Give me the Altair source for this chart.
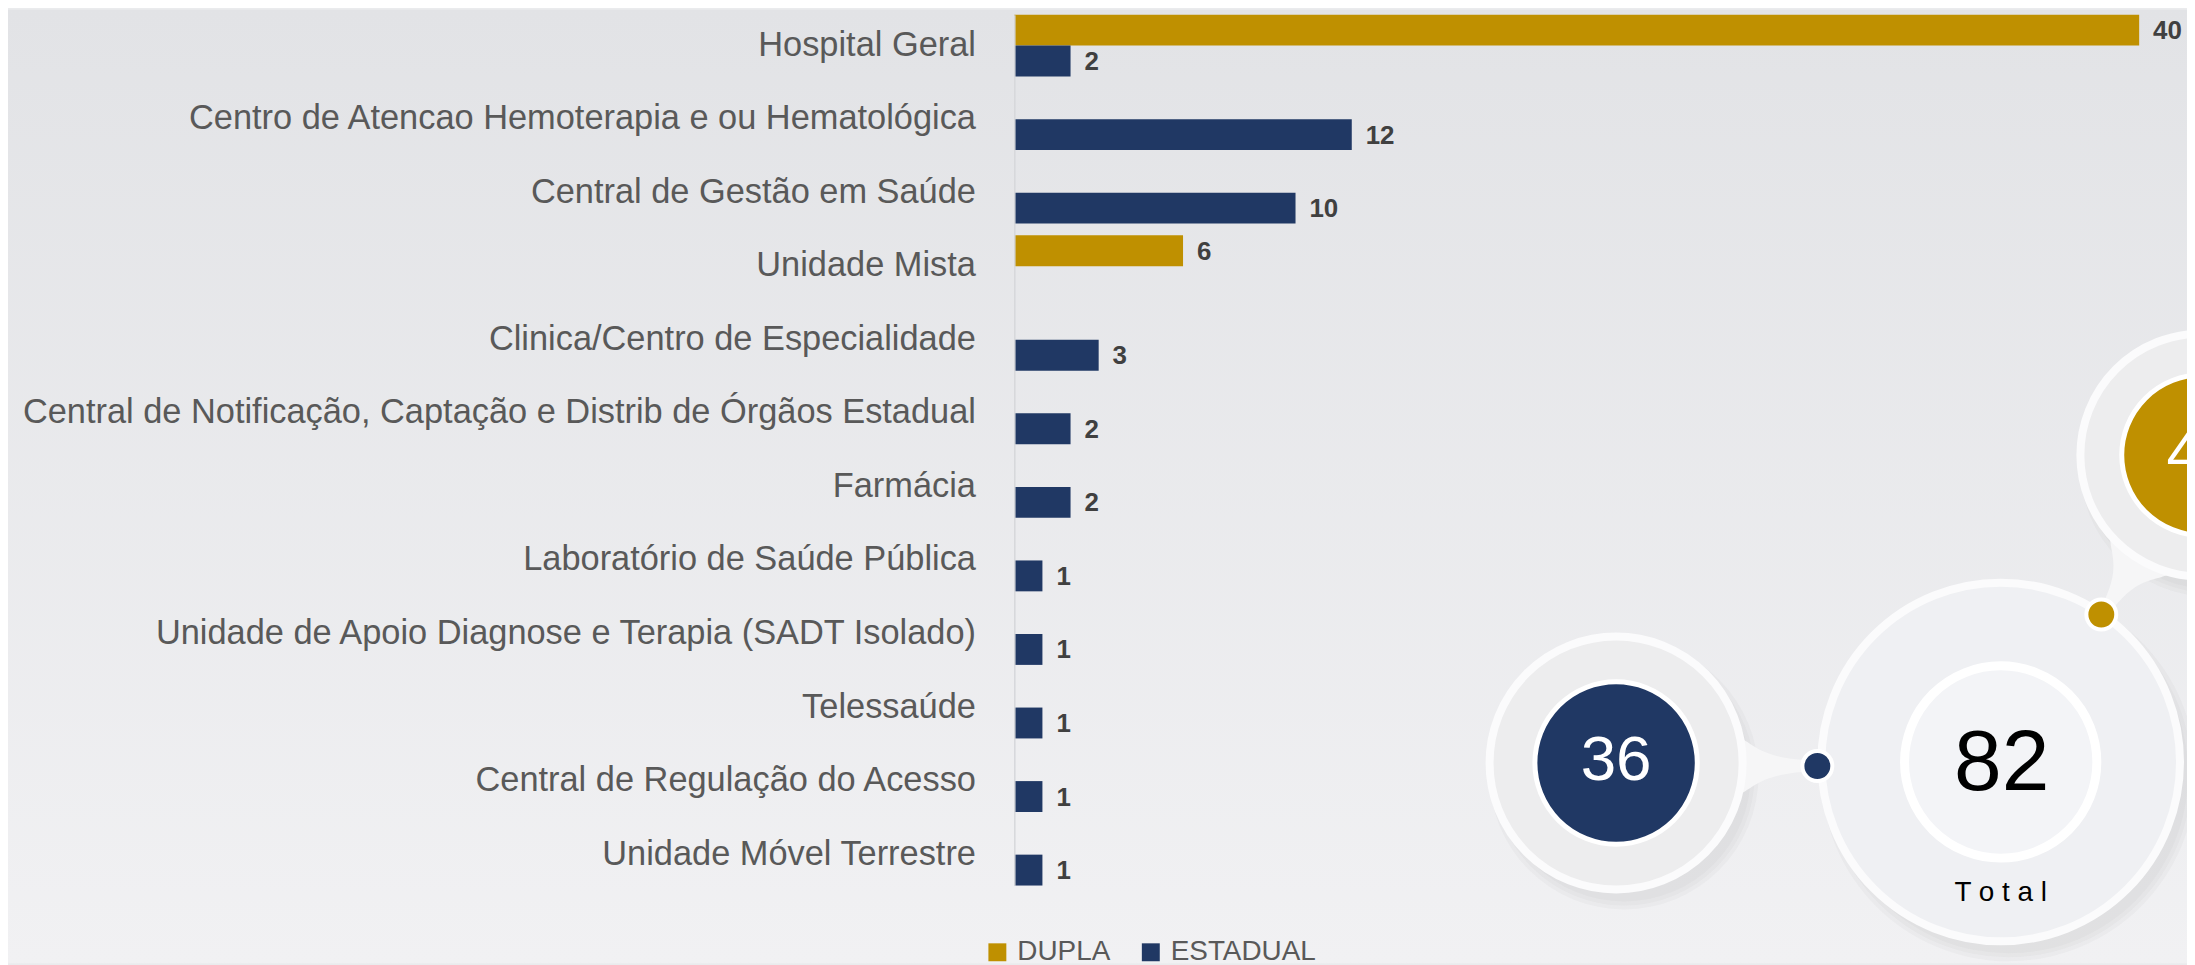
import altair as alt
import pandas as pd

categories = [
    "Hospital Geral",
    "Centro de Atencao Hemoterapia e ou Hematológica",
    "Central de Gestão em Saúde",
    "Unidade Mista",
    "Clinica/Centro de Especialidade",
    "Central de Notificação, Captação e Distrib de Órgãos Estadual",
    "Farmácia",
    "Laboratório de Saúde Pública",
    "Unidade de Apoio Diagnose e Terapia (SADT Isolado)",
    "Telessaúde",
    "Central de Regulação do Acesso",
    "Unidade Móvel Terrestre",
]
dupla = [40, 0, 0, 6, 0, 0, 0, 0, 0, 0, 0, 0]
estadual = [2, 12, 10, 0, 3, 2, 2, 1, 1, 1, 1, 1]
series = ["DUPLA", "ESTADUAL"]
colors = ["#BF9000", "#203864"]

rows = []
for c, d, e in zip(categories, dupla, estadual):
    if d:
        rows.append({"cat": c, "serie": "DUPLA", "v": d})
    if e:
        rows.append({"cat": c, "serie": "ESTADUAL", "v": e})
df = pd.DataFrame(rows)

total_dupla = sum(dupla)
total_estadual = sum(estadual)
total_all = total_dupla + total_estadual

FONT = "Liberation Sans"
W, H = 1129, 874
PAD = {"left": 1010, "top": 5, "right": 48, "bottom": 78}

one = pd.DataFrame({"a": [0]})

# background gradient
bg = alt.Chart(one).mark_rect(
    fill=alt.Gradient(
        gradient="linear",
        stops=[alt.GradientStop(color="#e2e3e6", offset=0),
               alt.GradientStop(color="#f1f1f3", offset=1)],
        x1=0, x2=0, y1=0, y2=1,
    )
).encode(
    x=alt.value(-PAD["left"]), x2=alt.value(W + PAD["right"]),
    y=alt.value(-PAD["top"]), y2=alt.value(H + PAD["bottom"]),
)

y_enc = alt.Y(
    "cat:N", sort=categories,
    scale=alt.Scale(domain=categories, paddingInner=0.16, paddingOuter=0),
    axis=alt.Axis(title=None, ticks=False, labelFontSize=34.5, labelColor="#595959",
                  labelFont=FONT, labelPadding=39, domainColor="#d6d7da", domainWidth=1.5,
                  labelLimit=1500, grid=False, zindex=2),
)
yoff = alt.YOffset("serie:N", scale=alt.Scale(domain=series, paddingInner=0, paddingOuter=0))
x_enc = alt.X("v:Q", scale=alt.Scale(domain=[0, 40], nice=False, zero=True), axis=None)

bars = alt.Chart(df).mark_bar().encode(
    x=x_enc, y=y_enc, yOffset=yoff,
    color=alt.Color("serie:N", scale=alt.Scale(domain=series, range=colors),
                    legend=alt.Legend(orient="none", legendX=-31, legendY=927,
                                      direction="horizontal", title=None,
                                      symbolType="square", symbolSize=324,
                                      labelFontSize=28, labelColor="#595959",
                                      labelFont=FONT, labelOffset=6,
                                      columnPadding=26, padding=0,
                                      symbolStrokeWidth=0, symbolOpacity=1,
                                      zindex=2)),
)
labels = alt.Chart(df).mark_text(
    align="left", baseline="middle", dx=14, dy=1, fontSize=26, fontWeight="bold",
    color="#404040", font=FONT,
).encode(x=x_enc, y=y_enc, yOffset=yoff, text="v:Q")


def circle(px, py, r, fill, stroke="#ffffff", sw=0, opacity=1.0):
    return alt.Chart(one).mark_circle(
        fill=fill, stroke=stroke, strokeWidth=sw, opacity=opacity,
        size=(2 * r) ** 2,
    ).encode(x=alt.value(px), y=alt.value(py))


def tail(px, py, span, angle, flare, neck, fill="#f6f6f7"):
    path = (f"M -1 {-flare} C -0.55 {-flare * 0.7} -0.45 {-neck * 1.3} 1 {-neck} "
            f"L 1 {neck} C -0.45 {neck * 1.3} -0.55 {flare * 0.7} -1 {flare} Z")
    return alt.Chart(one).mark_point(
        shape=path, filled=True, fill=fill, strokeWidth=0, opacity=1,
        size=span ** 2, angle=angle,
    ).encode(x=alt.value(px), y=alt.value(py))


def label(px, py, txt, size, color, weight="normal"):
    return alt.Chart(pd.DataFrame({"t": [txt]})).mark_text(
        align="center", baseline="middle", fontSize=size, color=color,
        font=FONT, fontWeight=weight,
    ).encode(x=alt.value(px), y=alt.value(py), text="t:N")


def shadow(px, py, edge):
    return [circle(px + 8, py + 12, edge + d, "#8a8b92", opacity=0.05) for d in (4, 0, -4)]


# bubble geometry (pixels relative to the plot origin)
B36 = (604, 751)
B82 = (990, 750)
B46 = (1192, 442)
DOT_E = (806, 754)
DOT_D = (1091, 602)

deco = []
deco += shadow(*B36, 131)
deco += shadow(*B82, 184)
deco += shadow(*B46, 126)
deco.append(tail(767, 754, 84, 0, 0.72, 0.12))
deco.append(tail(1110, 574, 74, 122, 0.95, 0.13))
deco.append(circle(*B36, 127, "#ededee", "#fbfbfc", 8))
deco.append(circle(*B82, 180, "#eff0f3", "#fbfbfc", 8))
deco.append(circle(*B46, 122, "#ededee", "#fbfbfc", 8))
deco.append(circle(*B36, 81.5, colors[1], "#ffffff", 5))
deco.append(circle(*B82, 96.5, "#f3f4f7", "#ffffff", 9))
deco.append(circle(*B46, 80.5, colors[0], "#ffffff", 5))
deco.append(circle(*DOT_E, 15, colors[1], "#ffffff", 4))
deco.append(circle(*DOT_D, 15, colors[0], "#ffffff", 4))
deco.append(label(B36[0], B36[1] - 2, str(total_estadual), 64, "#ffffff"))
deco.append(label(B82[0] + 1, B82[1] + 2, str(total_all), 86, "#000000"))
deco.append(label(B82[0], B82[1] + 132, "T o t a l", 28, "#000000"))
deco.append(label(B46[0], B46[1], str(total_dupla), 64, "#ffffff"))

chart = alt.layer(bg, bars, labels, *deco).properties(
    width=W, height=H,
    autosize=alt.AutoSizeParams(type="none"),
    padding=PAD,
    background="#eaebed",
).configure_view(stroke=None)

chart.save("out.html", embed_options={"renderer": "svg", "actions": False})
